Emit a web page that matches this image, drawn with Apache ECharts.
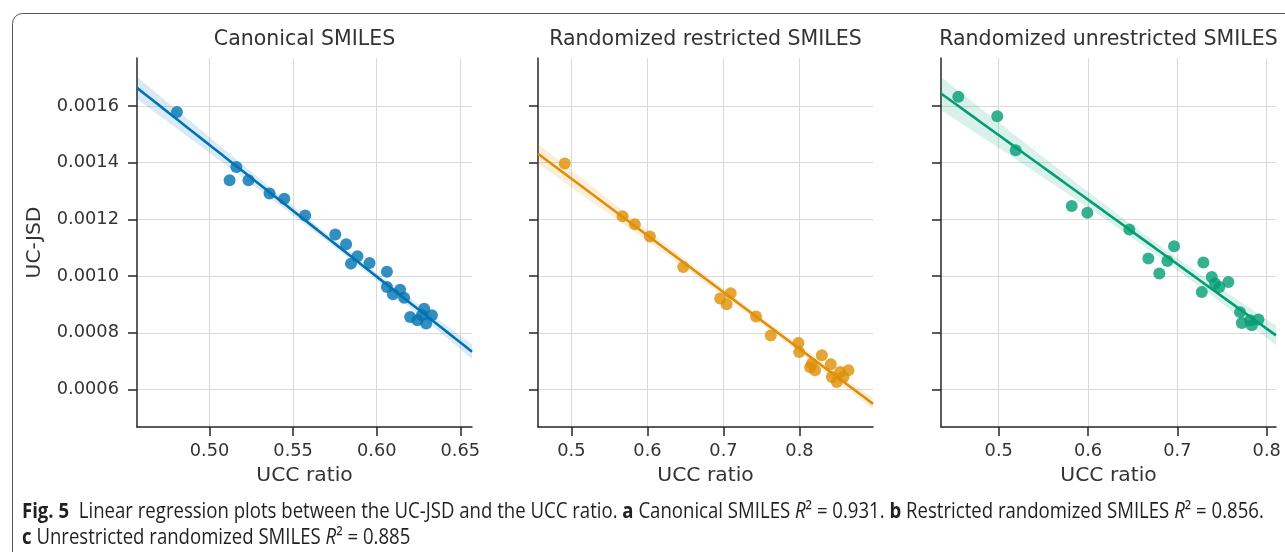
<!DOCTYPE html>
<html>
<head>
<meta charset="utf-8">
<script src="https://cdn.jsdelivr.net/npm/echarts@6/dist/echarts.min.js"></script>
<style>
  html, body { margin: 0; padding: 0; background: #fff; }
  #main { width: 1285px; height: 552px; }
</style>
</head>
<body>
<div id="main"></div>
<script>
// panel titles
var titles = ['Canonical SMILES', 'Randomized restricted SMILES', 'Randomized unrestricted SMILES'];

// a: canonical
var canonX = [0.4805, 0.5160, 0.5120, 0.5233, 0.5359, 0.5447, 0.5572, 0.5752, 0.5817, 0.5885, 0.5846, 0.5957,
              0.6061, 0.6061, 0.6097, 0.6140, 0.6164, 0.6200, 0.6244, 0.6284, 0.6296, 0.6330, 0.6270];
var canonY = [0.001579, 0.001385, 0.001338, 0.001338, 0.001291, 0.001273, 0.001214, 0.001147, 0.001112, 0.001070, 0.001044, 0.001046,
              0.001015, 0.000962, 0.000936, 0.000952, 0.000924, 0.000856, 0.000844, 0.000885, 0.000833, 0.000862, 0.000862];

// b: randomized restricted
var restrX = [0.4912, 0.5672, 0.5834, 0.6032, 0.6470, 0.6956, 0.7095, 0.7042, 0.7428, 0.7622, 0.7986,
              0.7995, 0.8294, 0.8140, 0.8205, 0.8412, 0.8426, 0.8491, 0.8535, 0.8644, 0.8578, 0.8162];
var restrY = [0.001397, 0.001211, 0.001183, 0.001140, 0.001032, 0.000921, 0.000940, 0.000901, 0.000858, 0.000791, 0.000764,
              0.000732, 0.000721, 0.000679, 0.000668, 0.000689, 0.000644, 0.000627, 0.000662, 0.000668, 0.000644, 0.000691];

// c: randomized unrestricted
var unrestrX = [0.4548, 0.4984, 0.5190, 0.5817, 0.5992, 0.6462, 0.6675, 0.6798, 0.6888, 0.6963, 0.7291,
                0.7273, 0.7385, 0.7422, 0.7470, 0.7571, 0.7702, 0.7721, 0.7814, 0.7907, 0.7833];
var unrestrY = [0.001632, 0.001564, 0.001444, 0.001247, 0.001223, 0.001164, 0.001062, 0.001009, 0.001053, 0.001105, 0.001048,
                0.000944, 0.000997, 0.000974, 0.000962, 0.000979, 0.000873, 0.000835, 0.000844, 0.000847, 0.000827];

// ticks
var xTicksA = [0.50, 0.55, 0.60, 0.65];
var xTicksBC = [0.5, 0.6, 0.7, 0.8];
var yTicks = [0.0006, 0.0008, 0.0010, 0.0012, 0.0014, 0.0016];

var xRanges = [[0.4566, 0.657], [0.456, 0.8967], [0.4354, 0.8104]];
var yRange = [0.000468, 0.001769];

var colors = ['#0173b2', '#de8f05', '#029e73'];
var lefts = [137, 538, 941];

var myChart = echarts.init(document.getElementById('main'));

// least squares fit + 95% band, like seaborn regplot
function regFit(xs, ys, range) {
    var n = xs.length, mx = 0, my = 0, sxx = 0, sxy = 0, sse = 0;
    for (var i = 0; i < n; i++) { mx += xs[i]; my += ys[i]; }
    mx /= n; my /= n;
    for (i = 0; i < n; i++) {
        sxx += (xs[i] - mx) * (xs[i] - mx);
        sxy += (xs[i] - mx) * (ys[i] - my);
    }
    var b = sxy / sxx, a = my - b * mx;
    for (i = 0; i < n; i++) { var r = ys[i] - a - b * xs[i]; sse += r * r; }
    var s = Math.sqrt(sse / (n - 2));
    var t = 2.08;
    var line = [], upper = [], lower = [];
    for (var k = 0; k <= 40; k++) {
        var x = range[0] + (range[1] - range[0]) * k / 40;
        var yh = a + b * x;
        var h = t * s * Math.sqrt(1 / n + (x - mx) * (x - mx) / sxx);
        line.push([x, yh]);
        upper.push([x, yh + h]);
        lower.push([x, yh - h]);
    }
    return {line: line, upper: upper, lower: lower};
}

var sets = [[canonX, canonY], [restrX, restrY], [unrestrX, unrestrY]];

var grids = [], xAxes = [], yAxes = [], series = [], graphics = [];
var tickFont = {fontFamily: 'DejaVu Sans', fontSize: 17.8, color: '#333'};

for (var p = 0; p < 3; p++) {
    grids.push({left: lefts[p], top: 58, width: 335, height: 369});
    var xt = p === 0 ? xTicksA : xTicksBC;
    var dec = p === 0 ? 2 : 1;
    xAxes.push({
        type: 'value', gridIndex: p, min: xRanges[p][0], max: xRanges[p][1],
        name: 'UCC ratio', nameLocation: 'middle', nameGap: 39,
        nameTextStyle: {fontFamily: 'DejaVu Sans', fontSize: 20.3, color: '#333'},
        axisLine: {show: true, lineStyle: {color: '#262626', width: 1.5}},
        axisTick: {show: true, length: 9, customValues: xt, lineStyle: {color: '#262626', width: 1.5}},
        axisLabel: Object.assign({customValues: xt, margin: 15, formatter: (function (d) {
            return function (v) { return v.toFixed(d); };
        })(dec)}, tickFont),
        splitLine: {show: true, lineStyle: {color: '#dadada', width: 1}}
    });
    yAxes.push({
        type: 'value', gridIndex: p, min: yRange[0], max: yRange[1],
        name: p === 0 ? 'UC-JSD' : '', nameLocation: 'middle', nameGap: 92, nameRotate: 90,
        nameTextStyle: {fontFamily: 'DejaVu Sans', fontSize: 20.3, color: '#333'},
        axisLine: {show: true, lineStyle: {color: '#262626', width: 1.5}},
        axisTick: {show: true, length: 9, customValues: yTicks, lineStyle: {color: '#262626', width: 1.5}},
        axisLabel: Object.assign({show: p === 0, customValues: yTicks, margin: 18, formatter: function (v) {
            return v.toFixed(4);
        }}, tickFont),
        splitLine: {show: true, lineStyle: {color: '#dadada', width: 1}}
    });

    var fit = regFit(sets[p][0], sets[p][1], xRanges[p]);
    var pts = sets[p][0].map(function (x, i) { return [x, sets[p][1][i]]; });

    series.push({
        type: 'custom', xAxisIndex: p, yAxisIndex: p, silent: true, clip: true, z: 1,
        data: [[xRanges[p][0], yRange[0]]],
        renderItem: (function (f, c) {
            return function (params, api) {
                var poly = f.upper.map(function (d) { return api.coord(d); })
                    .concat(f.lower.slice().reverse().map(function (d) { return api.coord(d); }));
                return {type: 'polygon', shape: {points: poly}, style: {fill: c, opacity: 0.15}};
            };
        })(fit, colors[p])
    });
    series.push({
        type: 'scatter', xAxisIndex: p, yAxisIndex: p, data: pts, symbolSize: 12, z: 2,
        itemStyle: {color: colors[p], opacity: 0.8}
    });
    series.push({
        type: 'line', xAxisIndex: p, yAxisIndex: p, data: fit.line, showSymbol: false, z: 3,
        lineStyle: {color: colors[p], width: 2.6}, clip: true
    });

    graphics.push({
        type: 'text', x: lefts[p] + 167.5, y: 40,
        style: {text: titles[p], fontFamily: 'DejaVu Sans', fontSize: 20.5, fill: '#333',
                textAlign: 'center', textVerticalAlign: 'middle'}
    });
}

// frame + caption
graphics.push({
    type: 'rect', shape: {x: 12.5, y: 13.5, width: 1300, height: 600, r: 10},
    style: {fill: null, stroke: '#555', lineWidth: 1}, silent: true
});
var capFont = 'Open Sans';
var capSize = 21;
var capRich = {b: {fontWeight: 'bold', fontFamily: capFont, fontSize: capSize, fill: '#231f20'},
               i: {fontStyle: 'italic', fontFamily: capFont, fontSize: capSize, fill: '#231f20'}};
graphics.push({
    type: 'text', x: 22, y: 512, scaleX: 0.885,
    style: {
        text: '{b|Fig. 5}  Linear regression plots between the UC-JSD and the UCC ratio. {b|a} Canonical SMILES {i|R}² = 0.931. {b|b} Restricted randomized SMILES {i|R}² = 0.856.',
        fontFamily: capFont, fontSize: capSize, fill: '#231f20', textVerticalAlign: 'middle', rich: capRich
    }
});
graphics.push({
    type: 'text', x: 22, y: 538, scaleX: 0.885,
    style: {
        text: '{b|c} Unrestricted randomized SMILES {i|R}² = 0.885',
        fontFamily: capFont, fontSize: capSize, fill: '#231f20', textVerticalAlign: 'middle', rich: capRich
    }
});

var option = {
    backgroundColor: '#fff',
    animation: false,
    grid: grids,
    xAxis: xAxes,
    yAxis: yAxes,
    series: series,
    graphic: graphics
};
myChart.setOption(option);
</script>
</body>
</html>
